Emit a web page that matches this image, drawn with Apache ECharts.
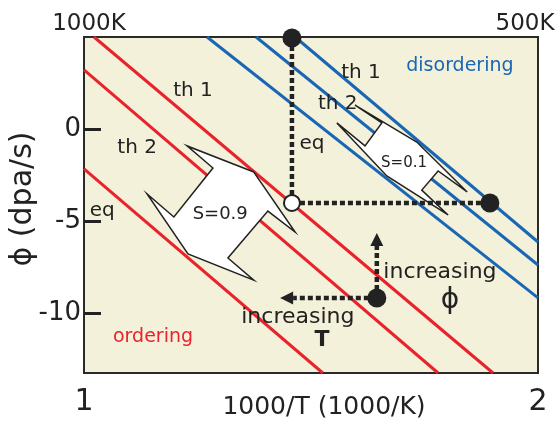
<!DOCTYPE html>
<html><head><meta charset="utf-8">
<script src="https://cdn.jsdelivr.net/npm/echarts@6/dist/echarts.min.js"></script>
<style>html,body{margin:0;padding:0;background:#fff}#c{width:558px;height:426px}</style>
</head><body><div id="c"></div>
<script>
// ---- axes ----
const xTicks = [1, 2];
const xTickLabels = ['1', '2'];
const topTickLabels = ['1000K', '500K'];
const yTicks = [0, -5, -10];
const yTickLabels = ['0', '-5', '-10'];
const xRange = [1, 2];
const yRange = [-13.26, 5.0];

// ---- threshold lines, [1000/T, phi] endpoints ----
const redTh1 = [[1.022, 5.0], [1.901, -13.26]];
const redTh2 = [[1.0, 3.21], [1.780, -13.26]];
const redEq  = [[1.0, -2.17], [1.526, -13.26]];
const blueTh1 = [[1.465, 5.0], [2.0, -6.14]];
const blueTh2 = [[1.379, 5.0], [2.0, -7.39]];
const blueEq  = [[1.271, 5.0], [2.0, -9.18]];

// ---- points ----
const filledPoints = [[1.458, 4.95], [1.894, -4.02], [1.645, -9.18]];
const openPoints = [[1.458, -4.02]];

// ---- dotted guides ----
const dottedPaths = [
  [[1.458, 4.95], [1.458, -4.02]],
  [[1.458, -4.02], [1.894, -4.02]]
];
const dottedArrows = [
  [[1.645, -9.18], [1.645, -5.65]],
  [[1.645, -9.18], [1.432, -9.18]]
];

// ---- double arrows (S) outlines ----
const arrowS09 = [[1.374,-2.34],[1.227,-0.92],[1.284,-2.12],[1.198,-4.78],[1.139,-3.53],
                  [1.229,-6.79],[1.374,-8.21],[1.317,-7.01],[1.405,-4.46],[1.465,-5.60]];
const arrowS01 = [[1.733,-0.71],[1.597,1.30],[1.656,0.33],[1.619,-0.92],[1.557,0.33],
                  [1.667,-2.55],[1.802,-4.67],[1.744,-3.32],[1.780,-2.28],[1.844,-3.42]];

// ---- annotations: text, x, y ----
const redLabels = [['th 1', 1.240, 2.07], ['th 2', 1.117, -1.03], ['eq', 1.040, -4.46]];
const blueLabels = [['th 1', 1.610, 3.04], ['th 2', 1.559, 1.36], ['eq', 1.502, -0.82]];
const regionLabels = [['disordering', 1.828, 3.42], ['ordering', 1.152, -11.30]];
const sLabels = [['S=0.9', 1.300, -4.62], ['S=0.1', 1.705, -1.85]];
const dirLabels = [['increasing', 1.784, -7.77], ['increasing', 1.471, -10.22]];
const dirSymbols = [['ϕ', 1.806, -9.35], ['T', 1.524, -11.47]];

const RED = '#E8232B', BLUE = '#1866B4', INK = '#222222', FONT = 'DejaVu Sans';

const chart = echarts.init(document.getElementById('c'), null, {renderer: 'canvas'});

function lineSeries(data, color) {
  return {type: 'line', data: data, showSymbol: false, symbol: 'none', silent: true,
    lineStyle: {color: color, width: 3}, z: 2, animation: false};
}
function textSeries(list, opts) {
  return {type: 'custom', silent: true, animation: false, z: 10, clip: false,
    data: list.map(d => [d[1], d[2]]),
    renderItem: function (params, api) {
      const p = api.coord([list[params.dataIndex][1], list[params.dataIndex][2]]);
      return {type: 'text', x: p[0], y: p[1], style: {text: list[params.dataIndex][0],
        fill: opts.color, fontFamily: FONT, fontSize: opts.size, fontWeight: opts.weight || 'normal',
        align: 'center', verticalAlign: 'middle'}};
    }};
}
function polySeries(shapes) {
  return {type: 'custom', silent: true, animation: false, z: 5, clip: false,
    data: shapes.map(s => s[0]),
    renderItem: function (params, api) {
      const pts = shapes[params.dataIndex].map(p => api.coord(p));
      return {type: 'polygon', shape: {points: pts},
        style: {fill: '#ffffff', stroke: INK, lineWidth: 1.5, lineJoin: 'miter'}};
    }};
}
function dottedSeries(paths, withArrow) {
  return {type: 'custom', silent: true, animation: false, z: 7, clip: false,
    data: paths.map(s => s[0]),
    renderItem: function (params, api) {
      const a = api.coord(paths[params.dataIndex][0]);
      const b = api.coord(paths[params.dataIndex][1]);
      const children = [];
      let end = b;
      if (withArrow) {
        const dx = b[0] - a[0], dy = b[1] - a[1];
        const L = Math.hypot(dx, dy), ux = dx / L, uy = dy / L;
        const len = 13, hw = 6.5;
        const base = [b[0] - ux * len, b[1] - uy * len];
        end = base;
        children.push({type: 'polygon', shape: {points: [b,
          [base[0] - uy * hw, base[1] + ux * hw], [base[0] + uy * hw, base[1] - ux * hw]]},
          style: {fill: INK}});
      }
      children.unshift({type: 'line', shape: {x1: a[0], y1: a[1], x2: end[0], y2: end[1]},
        style: {stroke: INK, lineWidth: 4.5, lineDash: [5, 3]}});
      return {type: 'group', children: children};
    }};
}

const option = {
  animation: false,
  backgroundColor: '#ffffff',
  grid: {left: 84, right: 20, top: 37, bottom: 53, show: true, containLabel: false,
    outerBoundsMode: 'none',
    backgroundColor: '#F4F1DA', borderColor: '#2a2a2a', borderWidth: 2},
  xAxis: [
    {type: 'value', position: 'bottom', min: xRange[0], max: xRange[1], interval: 1,
      axisLine: {show: false}, axisTick: {show: false}, splitLine: {show: false},
      axisLabel: {fontFamily: FONT, fontSize: 30, color: INK, margin: 14,
        formatter: v => xTickLabels[xTicks.indexOf(v)] ?? ''},
      name: '1000/T (1000/K)', nameLocation: 'middle', nameGap: 22, nameMoveOverlap: false,
      nameTextStyle: {fontFamily: FONT, fontSize: 25, color: INK, padding: [0, 0, 0, 26]}},
    {type: 'value', position: 'top', min: xRange[0], max: xRange[1], interval: 1,
      axisLine: {show: false}, axisTick: {show: false}, splitLine: {show: false},
      axisLabel: {fontFamily: FONT, fontSize: 23, color: INK, margin: 1,
        formatter: v => {
          const i = xTicks.indexOf(v);
          return i === 0 ? '{a|' + topTickLabels[0] + '}' : '{b|' + topTickLabels[1] + '}';
        },
        rich: {a: {fontFamily: FONT, fontSize: 23, color: INK, padding: [0, 0, 0, 10]},
               b: {fontFamily: FONT, fontSize: 23, color: INK, padding: [0, 26, 0, 0]}}}}
  ],
  yAxis: {type: 'value', min: yRange[0], max: yRange[1],
    axisLine: {show: false}, splitLine: {show: false},
    axisTick: {show: true, inside: true, length: 17, customValues: yTicks,
      lineStyle: {color: INK, width: 3}},
    axisLabel: {fontFamily: FONT, fontSize: 26, color: INK, margin: 3, customValues: yTicks,
      formatter: v => yTickLabels[yTicks.indexOf(v)] ?? ''},
    name: 'ϕ (dpa/s)', nameLocation: 'middle', nameRotate: 90, nameGap: 46, nameMoveOverlap: false,
    nameTextStyle: {fontFamily: FONT, fontSize: 30, color: INK, padding: [0, 0, 0, 12]}},
  series: [
    lineSeries(redTh1, RED), lineSeries(redTh2, RED), lineSeries(redEq, RED),
    lineSeries(blueTh1, BLUE), lineSeries(blueTh2, BLUE), lineSeries(blueEq, BLUE),
    polySeries([arrowS09, arrowS01]),
    dottedSeries(dottedPaths, false),
    dottedSeries(dottedArrows, true),
    {type: 'scatter', data: filledPoints, symbolSize: 19, clip: false, silent: true, z: 8,
      itemStyle: {color: INK, opacity: 1}},
    {type: 'scatter', data: openPoints, symbolSize: 16, clip: false, silent: true, z: 8,
      itemStyle: {color: '#ffffff', borderColor: INK, borderWidth: 2, opacity: 1}},
    textSeries(redLabels, {color: INK, size: 20}),
    textSeries(blueLabels, {color: INK, size: 20}),
    textSeries([regionLabels[0]], {color: BLUE, size: 19}),
    textSeries([regionLabels[1]], {color: RED, size: 19}),
    textSeries([sLabels[0]], {color: INK, size: 18}),
    textSeries([sLabels[1]], {color: INK, size: 15}),
    textSeries(dirLabels, {color: INK, size: 22}),
    textSeries([dirSymbols[0]], {color: INK, size: 28}),
    textSeries([dirSymbols[1]], {color: INK, size: 22, weight: 'bold'})
  ]
};
chart.setOption(option);
</script>
</body></html>
